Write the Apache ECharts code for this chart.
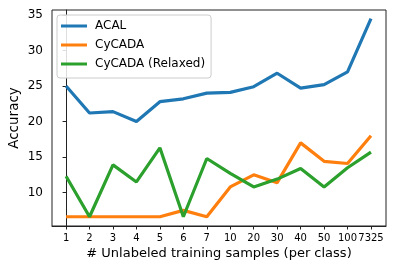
<!DOCTYPE html>
<html><head><meta charset="utf-8">
<script src="https://cdn.jsdelivr.net/npm/echarts@6/dist/echarts.min.js"></script>
<style>html,body{margin:0;padding:0;background:#fff}#c{width:394px;height:262px}</style>
</head><body><div id="c"></div>
<script>
var categories = ['1','2','3','4','5','6','7','10','20','30','40','50','100','7325'];
var acal = [25.0, 21.2, 21.4, 20.0, 22.8, 23.2, 24.0, 24.1, 24.9, 26.8, 24.7, 25.2, 27.0, 34.5];
var cycada = [6.6, 6.6, 6.6, 6.6, 6.6, 7.5, 6.6, 10.8, 12.5, 11.4, 17.0, 14.4, 14.1, 18.0];
var cycadaRelaxed = [12.3, 6.6, 13.9, 11.5, 16.3, 6.6, 14.8, 12.7, 10.8, 11.9, 13.4, 10.8, 13.5, 15.7];
var yTicks = [10, 15, 20, 25, 30, 35];

function pairs(arr){ return arr.map(function(v,i){ return [i, v]; }); }
var xTickIdx = categories.map(function(_,i){ return i; });
var FONT = 'DejaVu Sans';
var chart = echarts.init(document.getElementById('c'), null, {renderer:'canvas'});
chart.setOption({
  animation:false,
  backgroundColor:'#fff',
  grid:{left:52, right:8, top:10, bottom:36, containLabel:false, outerBoundsMode:'none',
    show:true, borderColor:'#222', borderWidth:1, backgroundColor:'transparent'},
  xAxis:{type:'value', min:-0.6, max:categories.length-1+0.64,
    name:'# Unlabeled training samples (per class)', nameLocation:'middle', nameGap:21, nameMoveOverlap:false,
    nameTextStyle:{fontFamily:FONT, fontSize:13, color:'#000'},
    axisLine:{show:true, onZero:false, lineStyle:{color:'#222', width:1}},
    axisTick:{show:true, length:3.5, lineStyle:{color:'#222'}, customValues:xTickIdx},
    axisLabel:{fontFamily:FONT, fontSize:10, color:'#000', margin:7, customValues:xTickIdx,
      formatter:function(v){ return categories[Math.round(v)]; }},
    splitLine:{show:false}},
  yAxis:{type:'value', min:5.3, max:35.7,
    name:'Accuracy', nameLocation:'middle', nameGap:31, nameRotate:90, nameMoveOverlap:false,
    nameTextStyle:{fontFamily:FONT, fontSize:13.5, color:'#000'},
    axisLine:{show:true, lineStyle:{color:'#222', width:1}},
    axisTick:{show:true, length:3.5, lineStyle:{color:'#222'}, customValues:yTicks},
    axisLabel:{fontFamily:FONT, fontSize:12, color:'#000', margin:9, customValues:yTicks},
    splitLine:{show:false}},
  legend:{orient:'vertical', left:57, top:15, icon:'rect', itemWidth:26, itemHeight:3,
    itemGap:5, padding:[4,6,7,4], backgroundColor:'rgba(255,255,255,0.85)',
    borderColor:'#ccc', borderWidth:1, borderRadius:3,
    textStyle:{fontFamily:FONT, fontSize:12, color:'#000', lineHeight:14, padding:[0,0,0,3]},
    data:['ACAL','CyCADA','CyCADA (Relaxed)']},
  series:[
    {name:'ACAL', type:'line', data:pairs(acal), showSymbol:false, symbol:'none', lineStyle:{width:3.2, color:'#1f77b4'}, itemStyle:{color:'#1f77b4'}},
    {name:'CyCADA', type:'line', data:pairs(cycada), showSymbol:false, symbol:'none', lineStyle:{width:3.2, color:'#ff7f0e'}, itemStyle:{color:'#ff7f0e'}},
    {name:'CyCADA (Relaxed)', type:'line', data:pairs(cycadaRelaxed), showSymbol:false, symbol:'none', lineStyle:{width:3.2, color:'#2ca02c'}, itemStyle:{color:'#2ca02c'}}
  ]
});
</script></body></html>
